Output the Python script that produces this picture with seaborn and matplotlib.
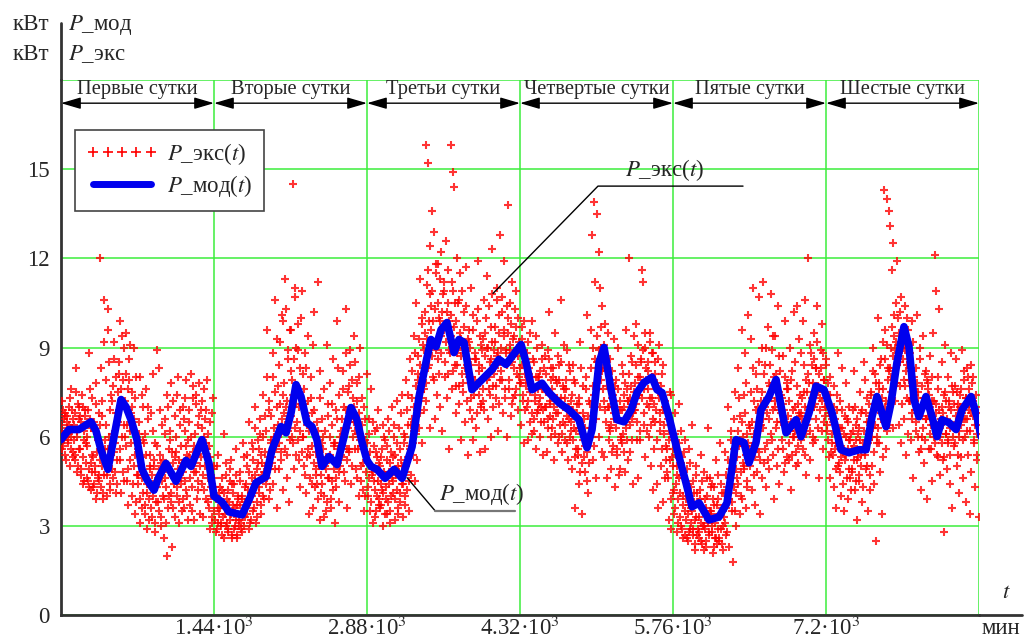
import numpy as np
import pandas as pd
import matplotlib
matplotlib.use("Agg")
import matplotlib.pyplot as plt
import seaborn as sns
from matplotlib.lines import Line2D

# ---------------- data ----------------
day_names = ["Первые сутки", "Вторые сутки", "Третьи сутки",
             "Четвертые сутки", "Пятые сутки", "Шестые сутки"]
x_ticks = [1440, 2880, 4320, 5760, 7200, 8640]
x_tick_labels = ["1.44·10$^3$", "2.88·10$^3$", "4.32·10$^3$",
                 "5.76·10$^3$", "7.2·10$^3$", ""]
y_ticks = [0, 3, 6, 9, 12, 15, 18]
y_tick_labels = ["0", "3", "6", "9", "12", "15", ""]

# model curve P_мод(t): time (min) and power (kW)
t_mod = [0, 75, 169, 282, 329, 376, 442, 499, 565, 612, 659, 715, 762, 809, 875,
         922, 988, 1082, 1176, 1224, 1327, 1393, 1440, 1515, 1581, 1704, 1769,
         1835, 1929, 1986, 2071, 2118, 2165, 2212, 2259, 2315, 2362, 2409, 2456,
         2522, 2598, 2664, 2729, 2786, 2834, 2880, 2918, 2974, 3050, 3135, 3210,
         3304, 3370, 3435, 3482, 3530, 3577, 3633, 3699, 3746, 3793, 3868, 3962,
         4057, 4122, 4188, 4245, 4330, 4377, 4433, 4527, 4593, 4687, 4781, 4875,
         4951, 4998, 5064, 5111, 5177, 5233, 5299, 5365, 5421, 5487, 5562, 5610,
         5657, 5722, 5751, 5816, 5882, 5939, 6005, 6099, 6193, 6268, 6353, 6428,
         6475, 6541, 6588, 6664, 6730, 6824, 6918, 6965, 7040, 7106, 7181, 7257,
         7341, 7417, 7511, 7577, 7633, 7680, 7765, 7812, 7868, 7934, 7981, 8028,
         8075, 8141, 8198, 8245, 8292, 8358, 8424, 8480, 8565, 8621, 8660]
p_mod = [5.9, 6.24, 6.24, 6.5, 6.2, 5.56, 4.9, 6.0, 7.25, 7.0, 6.57, 5.9, 4.9, 4.55, 4.2,
         4.65, 5.1, 4.5, 5.2, 5.0, 5.9, 5.1, 4.0, 3.8, 3.47, 3.37, 3.87,
         4.45, 4.65, 5.56, 6.34, 6.13, 6.8, 7.75, 7.35, 6.47, 6.34, 5.9, 5.0,
         5.33, 5.06, 6.0, 6.98, 6.57, 5.8, 5.2, 5.0, 4.9, 4.6, 4.9, 4.6,
         5.66, 7.35, 8.5, 9.27, 9.03, 9.6, 9.84, 8.83, 9.27, 9.17, 7.58, 7.92,
         8.26, 8.6, 8.43, 8.7, 9.1, 8.5, 7.58, 7.8, 7.48, 7.14, 6.9, 6.57,
         5.63, 6.24, 8.5, 9.0, 7.58, 6.57, 6.5, 6.9, 7.48, 7.82, 8.0, 7.58,
         7.48, 6.67, 6.24, 5.33, 4.45, 3.64, 3.77, 3.2, 3.3, 3.77, 5.9, 5.8,
         5.12, 5.8, 6.9, 7.35, 7.92, 6.13, 6.57, 6.0, 6.8, 7.7, 7.58, 6.8,
         5.56, 5.46, 5.56, 5.56, 6.67, 7.35, 6.34, 7.14, 8.5, 9.7, 9.03, 7.25,
         6.67, 7.35, 6.67, 6.0, 6.57, 6.47, 6.24, 6.9, 7.35, 6.67, 6.0]

# measured P_экс(t): per day 24 hours x 8 readings, two series of readings (kW)
p_exc_day1a = [
    6.2, 7.2, 5.7, 6.6, 5.4, 6.8, 6.0, 6.5,  5.8, 7.0, 6.1, 5.0, 7.6, 6.3, 5.5, 6.6,
    6.4, 5.2, 8.3, 6.0, 4.8, 7.1, 5.6, 6.7,  4.9, 6.5, 7.4, 5.3, 6.2, 4.5, 6.9, 5.8,
    6.0, 4.5, 8.8, 4.9, 6.6, 4.2, 7.3, 5.4,  4.3, 6.2, 5.0, 7.8, 3.9, 5.5, 4.6, 6.8,
    5.2, 12.0, 4.3, 7.2, 3.9, 10.6, 4.7, 5.9, 6.4, 4.0, 10.3, 5.6, 8.5, 4.4, 7.4, 4.9,
    7.2, 4.6, 9.2, 5.8, 4.1, 8.0, 5.2, 6.5,  8.1, 5.6, 9.9, 4.1, 7.2, 4.8, 9.0, 6.4,
    6.0, 9.5, 4.5, 7.6, 3.7, 8.6, 5.2, 6.8,  7.0, 4.0, 6.2, 9.0, 3.4, 5.4, 8.0, 4.7,
    4.7, 6.1, 3.1, 8.0, 5.3, 3.6, 7.0, 4.1,  5.8, 3.4, 7.6, 4.4, 2.9, 6.6, 3.9, 5.0,
    4.3, 6.8, 3.3, 8.1, 5.0, 2.8, 5.8, 3.8,  8.9, 4.6, 3.5, 8.3, 5.4, 3.0, 6.4, 4.0,
    4.9, 2.6, 6.6, 4.3, 2.0, 7.4, 3.6, 5.6,  5.9, 3.8, 7.8, 2.3, 5.1, 4.4, 6.7, 3.3,
    6.0, 4.0, 8.0, 5.2, 3.1, 6.9, 4.6, 3.5,  4.8, 7.0, 3.6, 6.2, 7.9, 4.2, 5.4, 3.2,
    6.5, 3.7, 8.1, 5.0, 4.3, 7.3, 3.2, 5.7,  5.1, 7.1, 3.9, 6.4, 4.5, 7.8, 3.4, 5.8,
    4.4, 6.3, 3.3, 7.6, 5.0, 3.9, 6.9, 5.6,  3.8, 5.7, 2.9, 6.5, 4.3, 3.3, 7.3, 5.0]
p_exc_day1b = [
    6.4, 5.6, 6.9, 6.1, 5.9, 6.7, 5.2, 6.3,  6.7, 5.9, 6.4, 7.3, 5.6, 6.0, 6.9, 5.3,
    5.9, 6.8, 5.4, 7.5, 6.2, 5.0, 6.6, 7.0,  5.6, 4.7, 6.3, 7.0, 4.4, 5.9, 6.7, 5.1,
    4.6, 5.7, 6.9, 4.3, 7.6, 5.1, 6.3, 4.8,  5.3, 4.4, 6.5, 4.8, 7.1, 4.1, 5.9, 4.7,
    4.5, 6.4, 8.3, 5.0, 6.7, 4.1, 9.2, 5.6,  5.2, 7.9, 4.7, 9.6, 6.0, 4.2, 6.9, 5.4,
    6.1, 7.7, 5.5, 8.6, 4.8, 6.8, 4.4, 7.5,  6.8, 8.5, 5.2, 7.6, 9.4, 6.0, 7.9, 4.5,
    7.2, 5.7, 8.1, 6.4, 4.9, 7.9, 6.2, 9.1,  5.8, 7.5, 4.4, 6.6, 5.0, 7.3, 3.8, 6.0,
    5.6, 4.4, 6.5, 3.9, 5.0, 7.4, 4.6, 5.9,  4.7, 6.1, 3.7, 5.4, 4.1, 7.0, 3.2, 4.9,
    5.4, 3.6, 4.7, 6.2, 4.0, 5.2, 3.1, 4.5,  4.3, 5.7, 3.8, 4.9, 6.9, 3.3, 5.1, 4.5,
    5.2, 3.9, 6.1, 4.6, 3.1, 5.0, 7.0, 4.0,  4.8, 6.2, 4.1, 5.5, 3.6, 7.2, 4.6, 5.3,
    5.5, 4.3, 7.4, 4.9, 3.8, 6.4, 5.7, 4.4,  5.1, 3.9, 6.6, 4.5, 7.3, 5.7, 4.0, 5.9,
    5.3, 6.9, 4.6, 6.0, 3.5, 5.5, 7.7, 4.8,  6.1, 4.8, 7.4, 5.4, 4.2, 6.7, 5.0, 6.9,
    5.3, 7.2, 4.7, 6.0, 4.2, 6.6, 5.8, 7.9,  4.6, 6.1, 3.6, 5.3, 4.0, 6.8, 3.1, 4.9]
p_exc_day2a = [
    4.6, 3.2, 4.0, 2.9, 3.6, 5.4, 3.4, 4.3,  3.1, 4.2, 2.7, 3.8, 6.1, 3.4, 4.7, 3.0,
    3.9, 2.8, 3.5, 4.5, 3.2, 5.2, 2.6, 3.7,  3.4, 4.4, 3.0, 5.6, 3.7, 2.7, 4.0, 3.2,
    4.8, 3.1, 3.9, 2.8, 5.8, 3.5, 4.3, 3.3,  3.6, 5.0, 4.2, 2.9, 6.5, 3.8, 3.2, 4.6,
    5.2, 3.5, 4.4, 7.0, 3.1, 4.9, 3.8, 5.9,  4.1, 6.1, 3.4, 5.4, 4.7, 7.4, 3.9, 5.0,
    6.7, 4.4, 9.6, 5.3, 3.9, 7.2, 4.9, 5.9,  5.1, 8.0, 4.4, 6.3, 10.6, 5.7, 3.6, 7.0,
    7.7, 4.9, 9.2, 6.1, 5.5, 10.1, 4.2, 6.8, 5.6, 11.3, 7.0, 4.6, 8.6, 6.2, 3.8, 9.6,
    8.2, 6.0, 14.5, 7.4, 4.9, 10.7, 5.4, 9.0, 6.5, 9.8, 5.2, 8.3, 4.3, 7.3, 10.9, 6.0,
    7.1, 5.0, 8.8, 4.1, 6.4, 9.4, 5.6, 3.4,  5.4, 8.0, 4.4, 6.8, 3.6, 10.2, 6.1, 4.9,
    4.7, 6.5, 11.2, 5.3, 3.2, 7.3, 4.1, 5.8, 6.0, 4.0, 7.6, 5.0, 3.5, 9.1, 4.6, 6.7,
    5.2, 7.8, 3.9, 6.4, 4.5, 8.6, 5.8, 3.1,  6.9, 4.6, 9.9, 5.6, 3.8, 7.4, 5.0, 6.2,
    5.7, 8.2, 4.8, 7.0, 6.3, 10.3, 5.2, 3.6, 7.5, 5.5, 8.9, 6.6, 4.4, 7.9, 6.0, 9.4,
    6.2, 8.5, 4.9, 7.2, 5.6, 4.0, 6.8, 9.0,  5.0, 7.3, 4.2, 6.0, 3.5, 6.6, 5.4, 8.1]
p_exc_day2b = [
    3.5, 4.3, 2.8, 3.9, 5.0, 3.1, 4.1, 3.6,  3.9, 3.0, 4.6, 3.3, 2.6, 4.1, 3.6, 5.1,
    3.1, 4.2, 2.9, 3.8, 4.9, 3.4, 2.7, 4.4,  4.1, 2.9, 3.6, 3.2, 4.7, 2.6, 3.9, 3.0,
    3.7, 4.5, 2.9, 4.0, 3.3, 5.3, 3.0, 3.8,  4.4, 3.4, 5.4, 3.9, 4.8, 3.1, 4.1, 5.8,
    4.0, 5.6, 3.6, 4.7, 6.3, 4.3, 3.3, 5.1,  5.6, 4.3, 6.6, 3.7, 5.1, 4.0, 6.0, 4.8,
    5.5, 6.2, 4.6, 8.0, 5.0, 6.9, 4.2, 5.8,  6.7, 5.3, 8.8, 6.0, 4.9, 7.5, 5.6, 9.3,
    6.4, 8.4, 5.8, 7.1, 5.2, 6.6, 9.9, 7.4,  7.8, 6.4, 10.3, 5.4, 7.2, 8.9, 6.7, 5.9,
    6.7, 9.6, 7.9, 5.8, 8.6, 6.3, 11.0, 7.1, 7.7, 5.9, 8.9, 7.0, 6.2, 10.0, 5.5, 8.1,
    6.0, 7.6, 4.7, 6.7, 8.3, 5.3, 7.2, 6.2,  6.4, 4.6, 7.3, 5.7, 9.1, 5.1, 6.9, 4.3,
    5.5, 4.4, 6.2, 3.9, 5.0, 8.2, 4.7, 6.6,  4.4, 5.6, 3.3, 6.2, 4.9, 5.3, 3.8, 7.1,
    4.6, 6.0, 5.4, 3.6, 7.1, 4.2, 5.7, 4.9,  5.8, 4.3, 6.6, 5.1, 8.3, 4.8, 6.0, 5.4,
    6.6, 5.3, 7.6, 6.0, 4.5, 8.8, 6.9, 5.6,  6.3, 7.7, 5.6, 8.4, 6.9, 5.0, 7.3, 6.5,
    7.0, 5.6, 6.5, 7.8, 4.6, 6.1, 8.0, 5.9,  5.7, 4.5, 6.4, 5.1, 7.0, 4.0, 5.9, 4.8]
p_exc_day3a = [
    5.8, 4.3, 6.6, 3.5, 5.0, 7.6, 4.7, 3.1,  4.5, 6.2, 3.3, 5.5, 4.0, 6.9, 3.7, 5.1,
    3.6, 5.3, 4.2, 6.4, 3.0, 4.8, 5.9, 3.9,  5.7, 3.4, 6.6, 4.4, 3.1, 5.1, 4.0, 7.0,
    4.1, 6.0, 3.2, 5.4, 4.7, 7.2, 3.6, 5.0,  6.3, 3.8, 5.2, 4.4, 7.4, 3.3, 5.8, 4.0,
    5.0, 7.9, 4.2, 6.4, 3.5, 8.6, 5.6, 4.7,  7.3, 5.4, 9.4, 6.2, 4.5, 10.5, 6.8, 8.1,
    8.7, 6.3, 11.3, 7.5, 5.8, 10.0, 9.1, 6.9, 9.5, 15.8, 7.2, 11.1, 15.2, 8.4, 12.4, 6.3,
    10.4, 13.6, 8.0, 12.9, 9.2, 6.6, 11.5, 7.4, 8.6, 11.8, 10.0, 7.0, 12.2, 9.4, 6.2, 10.8,
    11.2, 8.0, 9.8, 12.6, 7.3, 10.5, 5.6, 8.9, 9.7, 15.8, 7.6, 14.9, 10.9, 14.4, 8.4, 6.8,
    12.0, 8.8, 10.5, 7.1, 11.5, 9.3, 5.9, 8.1, 7.8, 10.2, 9.0, 6.5, 11.7, 8.4, 5.4, 9.6,
    9.2, 6.9, 11.0, 8.0, 5.9, 10.1, 7.4, 8.6, 6.3, 9.9, 7.7, 11.9, 8.4, 5.5, 9.1, 7.1,
    8.9, 7.2, 10.6, 5.6, 9.5, 8.0, 11.4, 6.6, 7.6, 10.4, 8.5, 6.0, 12.3, 9.2, 7.0, 8.1,
    9.7, 7.3, 11.0, 8.7, 6.2, 10.1, 7.9, 12.8, 8.2, 10.7, 6.8, 9.4, 11.9, 7.6, 8.8, 6.0,
    10.0, 13.8, 7.9, 9.1, 6.7, 11.2, 8.5, 7.3, 8.7, 7.4, 9.7, 10.9, 8.1, 6.9, 9.2, 7.8]
p_exc_day3b = [
    5.2, 4.0, 6.1, 4.6, 5.5, 3.8, 4.9, 6.5,  4.8, 5.7, 4.2, 3.5, 5.3, 6.3, 4.5, 3.9,
    5.0, 4.4, 3.7, 5.6, 4.1, 6.0, 3.4, 4.7,  4.3, 5.2, 3.8, 4.8, 6.2, 3.5, 5.5, 4.6,
    5.3, 4.5, 6.4, 3.9, 4.9, 5.8, 4.2, 3.4,  4.7, 5.6, 4.1, 6.8, 5.0, 4.4, 6.1, 3.7,
    6.0, 4.8, 6.9, 5.3, 7.4, 4.5, 5.7, 6.4,  6.6, 8.2, 5.8, 7.0, 8.8, 6.1, 7.7, 5.2,
    7.9, 9.3, 6.8, 8.4, 7.3, 9.8, 8.1, 7.6,  8.9, 10.2, 7.8, 9.3, 11.6, 8.3, 9.9, 10.8,
    9.6, 8.7, 10.9, 9.9, 7.9, 10.3, 8.9, 11.8, 9.3, 10.5, 8.1, 9.9, 11.3, 8.8, 10.2, 9.6,
    9.6, 10.9, 8.5, 9.2, 10.2, 8.1, 11.6, 9.9, 8.8, 10.1, 9.4, 11.2, 8.2, 9.7, 10.5, 7.7,
    9.9, 8.4, 9.0, 10.6, 7.7, 9.5, 8.7, 10.9, 8.9, 7.5, 9.7, 8.3, 10.4, 7.2, 8.6, 9.3,
    8.0, 9.0, 7.3, 8.4, 6.6, 9.6, 7.7, 8.8,  7.9, 8.6, 6.8, 10.3, 7.4, 8.2, 9.4, 7.0,
    8.3, 7.6, 9.3, 6.9, 8.7, 10.0, 7.9, 9.0,  9.0, 8.0, 7.4, 9.7, 8.6, 10.8, 7.7, 8.9,
    8.3, 9.2, 7.7, 10.6, 8.8, 7.1, 9.5, 8.5,  9.0, 7.9, 10.2, 8.5, 9.6, 7.3, 8.9, 10.4,
    8.4, 9.5, 7.6, 10.5, 8.9, 9.8, 7.1, 9.3,  9.4, 8.3, 10.3, 7.6, 9.0, 8.7, 10.0, 8.0]
p_exc_day4a = [
    8.3, 6.4, 9.7, 7.2, 5.8, 8.9, 6.9, 7.7,  7.0, 9.2, 5.9, 8.1, 6.5, 7.6, 9.9, 6.1,
    8.6, 6.2, 7.4, 5.6, 9.4, 6.8, 8.0, 7.1,  6.0, 8.2, 7.0, 9.1, 5.4, 7.7, 6.5, 8.7,
    7.5, 5.5, 8.9, 6.6, 10.2, 7.1, 6.0, 8.3, 6.3, 8.0, 5.2, 7.3, 9.5, 6.8, 7.8, 5.8,
    8.4, 6.0, 7.1, 10.6, 5.5, 7.7, 6.5, 9.1, 5.9, 7.6, 6.7, 8.9, 5.2, 7.0, 8.2, 6.2,
    7.2, 4.9, 8.4, 6.3, 3.6, 7.8, 5.6, 6.8,  5.4, 7.1, 4.4, 9.2, 6.1, 3.4, 7.7, 5.9,
    6.6, 4.8, 8.0, 5.5, 10.1, 4.1, 7.2, 6.0, 9.6, 6.3, 12.8, 5.2, 13.9, 7.4, 11.2, 4.6,
    13.5, 8.1, 6.0, 12.2, 7.0, 9.0, 5.5, 10.4, 7.6, 5.3, 9.8, 6.5, 8.3, 4.6, 7.0, 5.9,
    6.2, 8.6, 4.9, 7.3, 5.7, 9.3, 6.8, 4.3,  7.9, 5.6, 6.6, 9.0, 4.7, 7.2, 5.9, 8.4,
    5.8, 8.1, 7.0, 4.8, 9.6, 6.3, 7.6, 5.2,  12.0, 7.3, 5.5, 8.7, 6.6, 4.4, 9.4, 6.9,
    6.9, 9.8, 5.9, 8.0, 4.6, 7.4, 6.2, 8.6,  11.6, 7.8, 11.2, 6.4, 9.0, 5.3, 8.3, 7.1,
    8.2, 6.0, 9.5, 7.3, 5.0, 8.8, 6.6, 4.2,  5.6, 8.5, 6.9, 4.4, 7.8, 3.6, 9.1, 6.2,
    7.4, 5.0, 8.1, 3.8, 6.4, 4.6, 7.0, 5.7,  4.8, 6.6, 3.2, 5.9, 7.5, 2.9, 5.3, 4.1]
p_exc_day4b = [
    8.9, 7.8, 9.3, 8.4, 7.4, 9.9, 8.1, 8.6,  7.9, 8.8, 7.2, 8.3, 9.5, 7.5, 8.0, 6.8,
    7.7, 6.6, 8.5, 7.2, 8.0, 9.0, 6.9, 7.6,  8.0, 7.3, 6.5, 8.6, 7.6, 6.9, 8.3, 7.0,
    7.0, 8.1, 7.6, 6.3, 8.6, 7.2, 6.7, 7.9,  7.6, 6.6, 8.3, 7.0, 6.1, 7.9, 7.3, 8.7,
    6.8, 7.9, 6.4, 7.3, 8.5, 6.1, 7.0, 7.6,  7.3, 6.4, 7.9, 5.8, 7.0, 8.4, 6.6, 6.0,
    6.5, 7.4, 5.9, 6.9, 7.9, 5.3, 6.2, 7.1,  6.6, 5.6, 7.3, 4.8, 6.3, 8.3, 5.1, 6.8,
    5.3, 6.3, 5.7, 7.6, 4.5, 6.7, 5.1, 6.0,  7.1, 8.3, 6.0, 9.0, 7.7, 5.7, 8.6, 6.6,
    8.5, 9.4, 7.6, 8.9, 11.0, 7.9, 9.7, 8.2, 8.3, 7.2, 9.1, 6.9, 8.6, 7.7, 9.5, 6.3,
    7.0, 7.9, 6.4, 8.2, 5.5, 7.4, 6.6, 7.7,  6.3, 7.0, 5.4, 7.6, 6.6, 4.9, 6.9, 6.0,
    6.9, 6.1, 7.4, 5.5, 7.8, 6.5, 5.9, 7.2,  7.2, 8.1, 6.4, 7.7, 5.9, 8.5, 6.8, 7.5,
    7.8, 7.1, 8.4, 6.5, 9.1, 7.4, 8.0, 5.9,  8.5, 7.3, 8.9, 6.8, 7.6, 9.5, 7.9, 6.2,
    7.6, 8.5, 7.0, 9.2, 6.4, 8.0, 7.3, 8.8,  7.1, 8.1, 6.5, 7.6, 5.9, 8.6, 7.3, 6.8,
    6.5, 7.7, 5.6, 6.9, 8.4, 6.1, 7.2, 5.2,  5.6, 6.9, 4.6, 6.2, 5.2, 7.4, 3.9, 6.0]
p_exc_day5a = [
    5.6, 3.4, 6.8, 4.4, 2.8, 5.0, 3.9, 7.1,  4.1, 6.2, 3.0, 5.3, 2.6, 4.6, 3.5, 5.9,
    3.2, 4.9, 2.5, 5.6, 3.7, 2.9, 4.3, 6.4,  4.5, 2.7, 3.8, 2.2, 5.0, 3.3, 4.1, 2.9,
    2.6, 4.2, 3.1, 5.4, 2.4, 3.6, 4.8, 3.0,  3.9, 2.3, 4.6, 3.2, 6.3, 2.8, 3.5, 4.3,
    3.0, 4.4, 2.1, 3.7, 2.6, 5.2, 3.3, 2.4,  4.7, 2.5, 3.4, 5.8, 2.9, 4.1, 2.2, 3.6,
    3.3, 5.5, 2.7, 4.3, 7.0, 3.8, 2.3, 4.9,  6.2, 3.5, 4.8, 1.8, 5.6, 7.5, 4.1, 3.0,
    4.6, 8.3, 5.7, 3.4, 6.7, 4.0, 9.6, 5.1,  7.4, 5.0, 8.8, 3.6, 6.1, 4.5, 10.1, 5.6,
    5.4, 9.3, 6.5, 4.2, 11.0, 7.2, 3.7, 6.0, 8.1, 4.8, 7.0, 10.7, 5.5, 3.4, 6.4, 9.0,
    6.6, 11.2, 5.1, 8.4, 4.3, 7.3, 5.8, 9.7, 4.9, 7.7, 10.8, 6.1, 8.9, 5.4, 3.9, 7.0,
    9.4, 6.3, 5.0, 10.4, 7.5, 4.4, 8.2, 6.8, 5.9, 8.7, 7.1, 4.8, 9.9, 6.4, 5.3, 7.8,
    7.6, 5.2, 9.0, 6.5, 4.2, 8.2, 6.0, 10.2, 6.2, 8.5, 5.0, 10.4, 7.1, 5.7, 9.3, 6.7,
    8.8, 6.6, 9.9, 5.6, 7.5, 10.6, 4.7, 7.9, 6.4, 12.0, 7.8, 5.2, 9.1, 6.9, 8.4, 5.8,
    9.5, 7.0, 5.9, 8.3, 10.4, 6.3, 7.7, 4.6, 7.3, 8.9, 6.2, 9.8, 5.6, 7.9, 6.7, 8.4]
p_exc_day5b = [
    5.0, 4.2, 6.1, 3.6, 5.4, 4.7, 3.1, 5.8,  4.6, 3.3, 5.1, 2.9, 4.0, 3.7, 5.5, 2.7,
    3.9, 2.6, 4.4, 3.4, 2.8, 5.1, 3.1, 3.6,  3.5, 2.9, 4.1, 2.4, 3.2, 4.7, 2.7, 3.8,
    3.3, 2.8, 3.9, 2.5, 4.5, 3.0, 3.6, 2.2,  2.9, 3.6, 2.5, 4.0, 3.1, 2.7, 4.6, 3.4,
    3.5, 2.8, 3.9, 2.3, 4.3, 3.1, 2.6, 3.7,  2.9, 3.9, 2.6, 3.3, 4.4, 2.4, 3.6, 3.0,
    4.1, 3.1, 4.7, 3.6, 2.8, 5.2, 3.9, 4.4,  4.6, 5.9, 3.8, 5.2, 4.3, 6.6, 3.5, 4.9,
    5.3, 6.2, 4.4, 7.3, 5.8, 4.8, 6.5, 3.9,  6.0, 4.9, 6.8, 5.4, 7.8, 4.3, 5.8, 6.4,
    6.3, 5.0, 7.5, 5.7, 8.3, 4.7, 6.1, 5.3,  6.9, 5.6, 7.6, 6.2, 8.5, 5.2, 7.2, 4.6,
    7.5, 6.3, 8.1, 5.6, 7.0, 9.0, 6.8, 5.2,  7.8, 6.6, 8.4, 7.3, 5.9, 9.4, 6.9, 8.0,
    7.2, 8.1, 6.5, 7.7, 5.6, 8.7, 6.9, 7.4,  6.5, 7.3, 5.6, 6.9, 8.0, 5.1, 6.2, 7.6,
    6.7, 5.8, 7.2, 6.2, 7.9, 5.4, 6.9, 6.4,  6.0, 7.0, 5.5, 7.7, 6.4, 5.1, 6.8, 7.4,
    6.8, 5.9, 7.3, 6.3, 8.4, 5.4, 7.0, 6.1,  7.5, 6.6, 8.1, 7.0, 6.2, 8.8, 7.3, 6.0,
    7.8, 8.6, 7.1, 8.3, 6.6, 9.2, 7.5, 8.1,  7.6, 6.9, 8.3, 7.2, 8.8, 6.5, 7.9, 7.0]
p_exc_day6a = [
    8.6, 6.2, 7.4, 5.3, 8.0, 4.6, 6.8, 5.8,  6.5, 4.3, 7.7, 5.6, 3.6, 6.9, 5.0, 8.8,
    5.1, 7.2, 4.0, 6.3, 8.3, 5.5, 3.5, 6.7,  7.8, 5.4, 6.6, 3.9, 5.9, 7.0, 4.6, 6.1,
    4.8, 6.9, 5.7, 8.2, 4.2, 6.4, 3.2, 5.2,  6.1, 4.5, 7.5, 5.4, 6.8, 3.8, 5.8, 8.5,
    5.5, 7.9, 4.9, 6.5, 3.5, 7.1, 5.9, 4.2,  7.4, 5.0, 9.0, 6.3, 4.4, 8.1, 2.5, 5.8,
    6.0, 10.0, 7.6, 4.8, 8.6, 6.8, 3.4, 9.2, 14.3, 7.0, 9.6, 5.6, 14.0, 8.3, 6.4, 13.6,
    13.1, 8.0, 11.6, 6.3, 12.5, 9.4, 7.2, 10.5, 11.9, 7.8, 9.1, 6.4, 10.2, 8.5, 5.8, 7.1,
    9.0, 6.6, 10.4, 7.7, 5.4, 8.4, 6.1, 9.6,  7.2, 8.8, 5.9, 9.9, 6.8, 4.6, 8.0, 7.5,
    8.3, 6.2, 10.1, 7.3, 5.5, 9.0, 6.7, 4.2, 6.0, 9.4, 7.0, 5.1, 8.1, 6.6, 3.9, 7.6,
    7.8, 5.6, 8.7, 6.4, 4.5, 7.2, 9.5, 6.0,  12.1, 6.8, 10.9, 5.4, 8.0, 10.3, 6.3, 4.7,
    6.6, 8.5, 5.2, 7.4, 2.8, 9.1, 6.1, 4.9,  8.0, 5.8, 7.0, 4.4, 8.8, 6.4, 3.6, 7.5,
    5.7, 7.7, 6.5, 8.6, 5.0, 7.1, 4.1, 6.2,  7.4, 5.3, 8.9, 6.6, 4.6, 7.9, 6.0, 3.8,
    6.2, 8.3, 5.4, 7.1, 3.4, 6.8, 4.8, 7.8,  8.0, 5.8, 6.9, 4.3, 7.4, 5.2, 6.4, 3.3]
p_exc_day6b = [
    7.0, 6.4, 7.8, 5.9, 6.8, 7.4, 5.5, 6.6,  6.1, 5.4, 7.0, 6.6, 4.9, 5.8, 7.4, 6.3,
    5.8, 4.8, 6.3, 5.3, 6.9, 4.4, 5.6, 6.1,  5.2, 6.0, 4.6, 5.6, 6.5, 4.9, 5.9, 4.2,
    5.6, 4.9, 6.2, 5.2, 7.0, 4.5, 5.9, 6.6,  5.3, 6.3, 4.7, 5.9, 5.0, 6.9, 4.3, 5.6,
    6.2, 5.4, 6.8, 5.0, 7.3, 5.8, 6.5, 4.7,  6.7, 7.5, 6.0, 8.2, 5.5, 7.1, 6.4, 7.8,
    7.1, 6.3, 7.8, 5.8, 8.4, 6.6, 7.3, 5.3,  7.6, 6.6, 8.6, 7.2, 9.1, 6.2, 7.9, 8.2,
    8.3, 9.0, 7.5, 9.7, 8.7, 10.1, 7.8, 8.9, 9.2, 8.4, 10.0, 8.8, 9.5, 7.7, 10.7, 9.0,
    8.6, 9.4, 7.9, 9.0, 8.2, 10.0, 7.3, 8.8,  7.9, 8.5, 7.2, 8.3, 6.6, 9.2, 7.6, 6.9,
    7.2, 6.5, 7.8, 6.0, 7.5, 6.8, 8.6, 5.6,  7.0, 7.7, 6.3, 7.3, 5.9, 8.2, 6.6, 7.9,
    6.7, 7.4, 6.1, 7.0, 5.6, 8.0, 6.4, 7.2,  6.5, 5.8, 7.1, 6.2, 7.6, 5.3, 6.9, 6.0,
    6.4, 7.0, 5.8, 6.8, 5.3, 7.5, 6.1, 7.2,  6.6, 5.9, 7.2, 6.3, 5.4, 6.9, 7.7, 6.0,
    6.3, 7.1, 5.8, 6.7, 7.5, 5.4, 6.9, 6.0,  7.0, 6.4, 7.6, 6.8, 5.9, 8.2, 6.6, 7.3,
    7.3, 6.6, 8.0, 6.9, 7.6, 6.2, 8.4, 7.1,  6.7, 7.2, 5.9, 6.4, 7.0, 5.4, 6.1, 6.8]

# ---------------- frames ----------------
exc_series = [
    (p_exc_day1a, p_exc_day1b), (p_exc_day2a, p_exc_day2b), (p_exc_day3a, p_exc_day3b),
    (p_exc_day4a, p_exc_day4b), (p_exc_day5a, p_exc_day5b), (p_exc_day6a, p_exc_day6b)]
offsets_a = np.array([4, 11, 19, 26, 34, 41, 49, 56])
offsets_b = np.array([1, 8, 15, 23, 30, 38, 45, 53])
rows_t, rows_p = [], []
for d, (va, vb) in enumerate(exc_series):
    for vals, offs in ((va, offsets_a), (vb, offsets_b)):
        arr = np.asarray(vals, dtype=float).reshape(24, 8)
        tt = d * 1440 + np.arange(24)[:, None] * 60 + offs[None, :]
        rows_t.append(tt.ravel())
        rows_p.append(arr.ravel())
df_exc = pd.DataFrame({"t": np.concatenate(rows_t), "p": np.concatenate(rows_p)})
df_mod = pd.DataFrame({"t": t_mod, "p": p_mod})

# ---------------- style ----------------
sns.set_style("white")
plt.rcParams["font.family"] = ["Liberation Serif", "DejaVu Serif"]
plt.rcParams["mathtext.fontset"] = "stix"
FS = 16.5
FS_DAY = 14.8

W, H = 1024, 639
fig = plt.figure(figsize=(W / 100, H / 100), dpi=100)
L, R, T, B = 61, 979, 80, 615
ax = fig.add_axes([L / W, 1 - B / H, (R - L) / W, (B - T) / H])

def fx(px):
    return px / W

def fy(py):
    return 1 - py / H

GREEN = "#3cee3c"
ax.set_xlim(0, 8640)
ax.set_ylim(0, 18)
ax.set_xticks(x_ticks)
ax.set_xticklabels(x_tick_labels, fontsize=FS)
ax.set_yticks(y_ticks)
ax.set_yticklabels(y_tick_labels, fontsize=FS)
ax.tick_params(axis="both", length=0)
ax.tick_params(axis="y", pad=8)
ax.tick_params(axis="x", pad=1)
ax.grid(True, color=GREEN, lw=1.1)
ax.set_axisbelow(True)
for s in ["top", "right"]:
    ax.spines[s].set_visible(False)
for s in ["left", "bottom"]:
    ax.spines[s].set_color("#333333")
    ax.spines[s].set_linewidth(2)

sns.scatterplot(data=df_exc, x="t", y="p", marker="+", color="#ff0000",
                s=40, linewidth=1.5, alpha=0.8, ax=ax, legend=False, zorder=3)
sns.lineplot(data=df_mod, x="t", y="p", color="#0000ee", lw=5.5, ax=ax,
             legend=False, zorder=4, solid_capstyle="round", solid_joinstyle="round")
ax.set_xlabel("")
ax.set_ylabel("")

# day labels with double arrows
for d, name in enumerate(day_names):
    ax.text(d * 1440 + 720, 17.68, name, ha="center", va="center", fontsize=FS_DAY)
    ax.annotate("", xy=(d * 1440, 17.22), xytext=((d + 1) * 1440, 17.22),
                arrowprops=dict(arrowstyle="<|-|>,head_length=0.75,head_width=0.22",
                                color="black", lw=1.0, mutation_scale=16,
                                shrinkA=0, shrinkB=0))

# callouts
ax.plot([4066, 5054, 6419], [10.82, 14.43, 14.43], color="black", lw=1.0, zorder=5)
ax.text(5685, 14.55, "$P$_экс($t$)", ha="center", va="bottom", fontsize=FS, zorder=5)
ax.plot([3257, 3520], [4.62, 3.51], color="black", lw=1.0, zorder=5)
ax.plot([3520, 4273], [3.51, 3.51], color="#777777", lw=1.6, zorder=5)
ax.text(3962, 3.63, "$P$_мод($t$)", ha="center", va="bottom", fontsize=FS, zorder=5)

# legend
handles = [Line2D([], [], ls="none", marker="+", color="#ff0000", ms=7, mew=1.2),
           Line2D([], [], color="#0000ee", lw=5, solid_capstyle="round")]
leg = ax.legend(handles, ["$P$_экс($t$)", "$P$_мод($t$)"], numpoints=5,
                loc="upper left", bbox_to_anchor=((75 - L) / (R - L), (B - 130) / (B - T)),
                borderaxespad=0, fancybox=False, edgecolor="#444444", framealpha=1,
                handlelength=3.1, handletextpad=0.4, borderpad=0.5, labelspacing=0.25,
                fontsize=FS)
leg.get_frame().set_linewidth(1.2)
leg.set_zorder(6)

# outer labels
fig.text(fx(49), fy(25), "кВт", ha="right", va="center", fontsize=FS)
fig.text(fx(68), fy(25), "$P$_мод", ha="left", va="center", fontsize=FS)
fig.text(fx(49), fy(54), "кВт", ha="right", va="center", fontsize=FS)
fig.text(fx(68), fy(54), "$P$_экс", ha="left", va="center", fontsize=FS)
fig.add_artist(Line2D([fx(L), fx(L)], [fy(23), fy(T)], color="#333333", lw=2))
fig.add_artist(Line2D([fx(R), fx(1022)], [fy(B), fy(B)], color="#333333", lw=2))
fig.text(fx(1006), fy(592), "$t$", ha="center", va="center", fontsize=FS)
fig.text(fx(1001), fy(628), "мин", ha="center", va="center", fontsize=FS)

fig.savefig("out.png", dpi=100)
